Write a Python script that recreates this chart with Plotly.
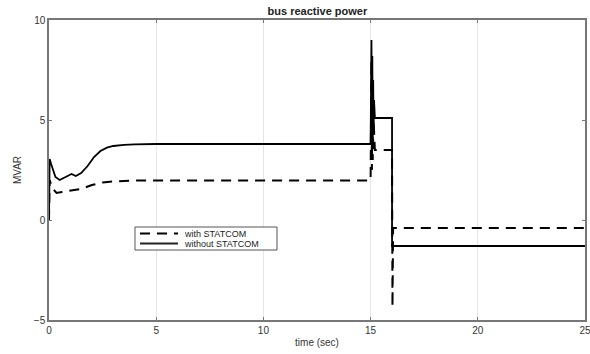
import plotly.graph_objects as go

# time (sec) and MVAR values
t_without = [0, 0.03, 0.1, 0.3, 0.5, 0.75, 1.05, 1.25, 1.5, 1.8, 2.1, 2.4, 2.7, 3.0, 3.5, 4.0, 5.0,
             15.0, 15.04, 15.06, 15.08, 15.1, 15.12, 15.14, 15.16, 15.2, 16.0, 16.0, 25.0]
q_without = [0, 3.05, 2.8, 2.15, 2.0, 2.15, 2.3, 2.2, 2.35, 2.7, 3.15, 3.45, 3.62, 3.7, 3.76, 3.78, 3.8,
             3.8, 9.0, 3.6, 8.2, 4.0, 7.0, 4.5, 6.0, 5.1, 5.1, -1.3, -1.3]

t_with = [0, 0.03, 0.15, 0.35, 0.6, 1.0, 1.5, 2.0, 2.5, 3.0, 4.0,
          15.0, 15.04, 15.06, 15.08, 15.1, 15.14, 15.2, 16.0, 16.02, 16.05, 25.0]
q_with = [0, 2.0, 1.6, 1.35, 1.4, 1.45, 1.55, 1.75, 1.88, 1.93, 1.97,
          1.97, 8.0, 2.5, 7.0, 3.0, 5.0, 3.5, 3.5, -4.35, -0.4, -0.4]

series_names = ["with STATCOM", "without STATCOM"]
x_ticks = [0, 5, 10, 15, 20, 25]
y_ticks = [-5, 0, 5, 10]

DASH = "10px,7px"
FAM = "Liberation Sans, Arial, sans-serif"

fig = go.Figure()
fig.add_trace(go.Scatter(x=t_with, y=q_with, mode="lines", name=series_names[0],
                         line=dict(color="black", width=2, dash=DASH), showlegend=False))
fig.add_trace(go.Scatter(x=t_without, y=q_without, mode="lines", name=series_names[1],
                         line=dict(color="black", width=1.8), showlegend=False))

# compact MATLAB-style legend box (paper coordinates)
lx0, lx1, ly0, ly1 = 0.1604, 0.4254, 0.2333, 0.31
row_y = [0.2883, 0.2550]
styles = [dict(color="black", width=2, dash=DASH), dict(color="#222", width=1.8)]
fig.add_shape(type="rect", xref="paper", yref="paper", x0=lx0, x1=lx1, y0=ly0, y1=ly1,
              line=dict(color="#555", width=1), fillcolor="white", layer="above")
for name, yy, st in zip(series_names, row_y, styles):
    fig.add_shape(type="line", xref="paper", yref="paper", x0=0.1698, x1=0.2407, y0=yy, y1=yy,
                  line=st, layer="above")
    fig.add_annotation(xref="paper", yref="paper", x=0.2495, y=yy, text=name, showarrow=False,
                       xanchor="left", yanchor="middle", borderpad=0,
                       font=dict(family=FAM, size=9, color="#222"))

font = dict(family=FAM, size=10, color="#333")
fig.update_layout(
    width=590, height=354,
    margin=dict(l=49, r=5, t=20, b=34, autoexpand=False),
    plot_bgcolor="white", paper_bgcolor="white",
    font=font,
    title=dict(text="<b>bus reactive power</b>", x=0.538, xanchor="center", y=0.98, yanchor="top",
               font=dict(family=FAM, size=11, color="#222")),
    showlegend=False,
    xaxis=dict(range=[0, 25], tickvals=x_ticks, showgrid=True, gridcolor="#e6e6e6", gridwidth=1,
               zeroline=False, showline=True, linecolor="#777", linewidth=1.5, mirror="ticks",
               ticks="inside", ticklen=3, tickcolor="#777", automargin=False,
               ticklabeloverflow="allow",
               title=dict(text="time (sec)", standoff=4, font=font)),
    yaxis=dict(range=[-5, 10], tickvals=y_ticks, showgrid=False,
               zeroline=False, showline=True, linecolor="#777", linewidth=1.5, mirror="ticks",
               ticks="inside", ticklen=3, tickcolor="#777", automargin=False,
               title=dict(text="MVAR", standoff=10, font=font)),
)

fig.write_html("out.html")
